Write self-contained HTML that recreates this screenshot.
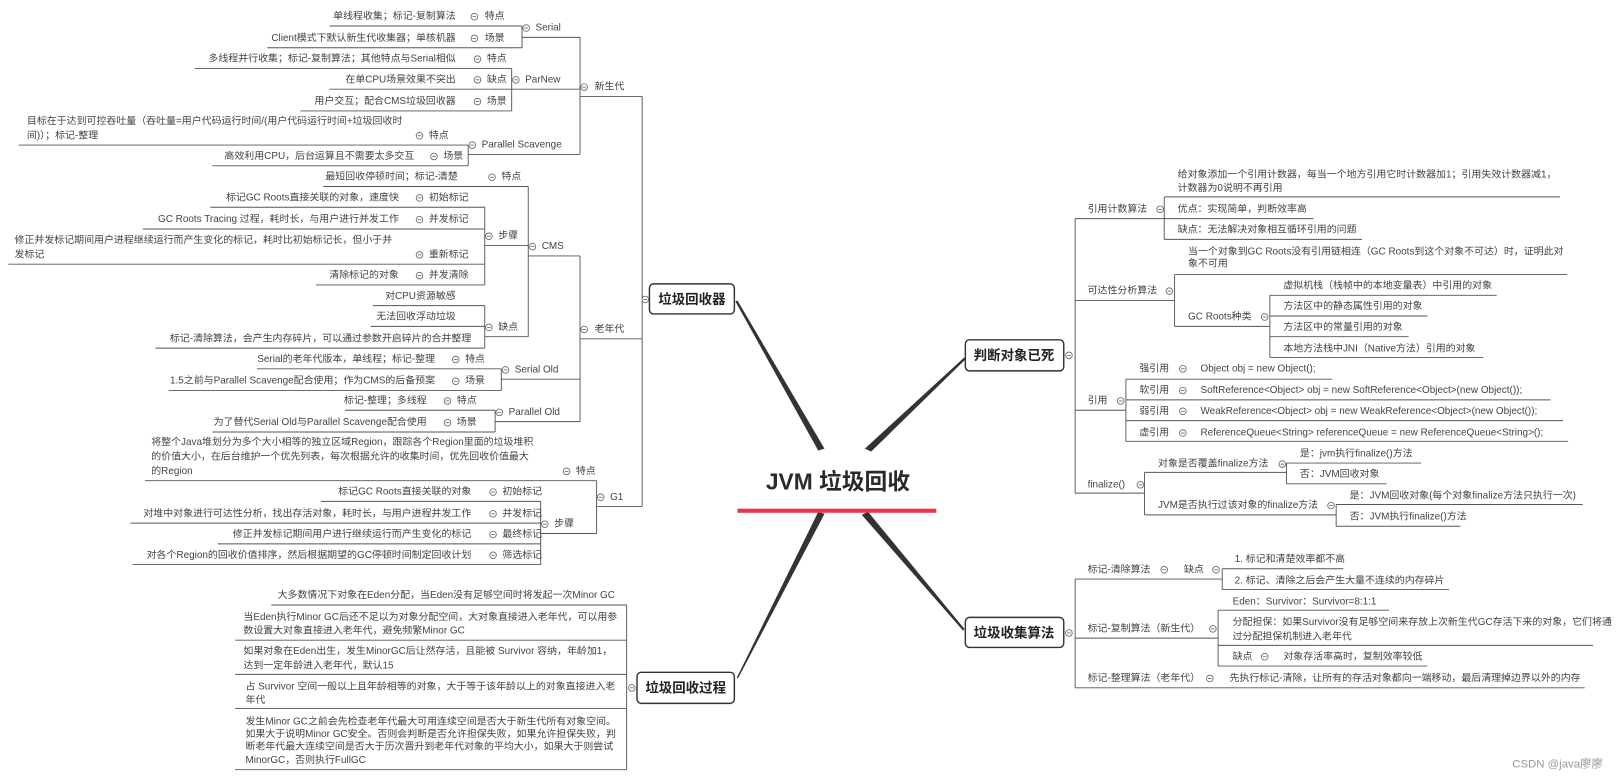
<!DOCTYPE html>
<html><head><meta charset="utf-8">
<style>
html,body{margin:0;padding:0;background:#fff;}
svg{display:block;}
text{font-family:"Liberation Sans","Noto Sans CJK SC",sans-serif;font-size:9.6px;fill:#444;dominant-baseline:central;}
.e{text-anchor:end;}
.b{font-weight:bold;font-size:13px;fill:#222;}
.l{stroke:#555;stroke-width:0.9;fill:none;}
</style></head>
<body>
<svg width="1621" height="777" viewBox="0 0 1565 750" xmlns="http://www.w3.org/2000/svg">
<defs><g id="m"><circle r="3.2" fill="#fff" stroke="#666" stroke-width="0.8"/><line x1="-1.8" x2="1.8" y1="0" y2="0" stroke="#666" stroke-width="0.8"/></g></defs>
<rect width="1565" height="750" fill="#fff"/>

<!-- center -->
<polygon points="710,291 712,290 796,433 790,435" fill="#333"/>
<polygon points="931,345 932,347 841,436 835,433" fill="#333"/>
<polygon points="931,607 930,609 832,497 838,494" fill="#333"/>
<polygon points="711,655 713,654 796,496 790,494" fill="#333"/>
<text x="809" y="465" style="font-size:22px;font-weight:bold;text-anchor:middle;fill:#2a2a2a">JVM 垃圾回收</text>
<rect x="712" y="491" width="192" height="4" fill="#e8364f"/>

<!-- main boxes -->
<rect x="627" y="274" width="82" height="29" rx="4" fill="#fff" stroke="#333" stroke-width="1.4"/>
<text class="b" x="668" y="289" style="text-anchor:middle">垃圾回收器</text>
<rect x="932" y="328" width="95" height="30" rx="4" fill="#fff" stroke="#333" stroke-width="1.4"/>
<text class="b" x="979" y="343" style="text-anchor:middle">判断对象已死</text>
<rect x="932" y="596" width="95" height="29" rx="4" fill="#fff" stroke="#333" stroke-width="1.4"/>
<text class="b" x="979" y="611" style="text-anchor:middle">垃圾收集算法</text>
<rect x="615" y="649" width="94" height="30" rx="4" fill="#fff" stroke="#333" stroke-width="1.4"/>
<text class="b" x="662" y="664" style="text-anchor:middle">垃圾回收过程</text>

<!-- LEFT: 垃圾回收器 -->
<path class="l" d="M620 93V489 M560 36V149 M504 25V46 M494 66V107 M452 140V160 M560 247V407 M510 180V325 M468 200V275 M468 295V336 M484 356V377 M478 396V417 M576 464V515 M522 484V545"/>
<path class="l" d="M318 25H504 M258 46H504 M504 36H560 M188 66H494 M318 86H494 M290 107H494 M494 86H560 M18 140H452 M205 160H452 M452 149H560 M560 93H620
M312 180H510 M203 200H468 M138 221H468 M8 255H468 M305 275H468 M468 237H510 M360 295H468 M358 315H468 M150 336H468 M468 325H510 M510 247H560
M248 356H484 M163 377H484 M484 366H560 M333 396H478 M205 417H478 M478 407H560 M560 327H620
M140 464H576 M310 484H522 M126 505H522 M210 525H522 M128 545H522 M522 515H576 M576 489H620"/>
<use href="#m" x="623" y="289"/>

<text class="e" x="440" y="16">单线程收集；标记-复制算法</text><use href="#m" x="458" y="16"/><text x="468" y="16">特点</text>
<text class="e" x="440" y="37">Client模式下默认新生代收集器；单核机器</text><use href="#m" x="458" y="37"/><text x="468" y="37">场景</text>
<use href="#m" x="508" y="27"/><text x="517" y="27">Serial</text>
<text class="e" x="440" y="57">多线程并行收集；标记-复制算法；其他特点与Serial相似</text><use href="#m" x="461" y="57"/><text x="470" y="57">特点</text>
<text class="e" x="440" y="77">在单CPU场景效果不突出</text><use href="#m" x="461" y="77"/><text x="470" y="77">缺点</text>
<text class="e" x="440" y="98">用户交互；配合CMS垃圾回收器</text><use href="#m" x="461" y="98"/><text x="470" y="98">场景</text>
<use href="#m" x="498" y="77"/><text x="507" y="77">ParNew</text>
<text x="26" y="117">目标在于达到可控吞吐量（吞吐量=用户代码运行时间/(用户代码运行时间+垃圾回收时</text>
<text x="26" y="131">间)）；标记-整理</text><use href="#m" x="405" y="131"/><text x="414" y="131">特点</text>
<text class="e" x="400" y="151">高效利用CPU，后台运算且不需要太多交互</text><use href="#m" x="419" y="151"/><text x="428" y="151">场景</text>
<use href="#m" x="456" y="140"/><text x="465" y="140">Parallel Scavenge</text>
<use href="#m" x="564" y="84"/><text x="574" y="84">新生代</text>

<text class="e" x="442" y="171">最短回收停顿时间；标记-清楚</text><use href="#m" x="475" y="171"/><text x="484" y="171">特点</text>
<text class="e" x="385" y="191">标记GC Roots直接关联的对象，速度快</text><use href="#m" x="405" y="191"/><text x="414" y="191">初始标记</text>
<text class="e" x="385" y="212">GC Roots Tracing 过程，耗时长，与用户进行并发工作</text><use href="#m" x="405" y="212"/><text x="414" y="212">并发标记</text>
<text x="14" y="232">修正并发标记期间用户进程继续运行而产生变化的标记，耗时比初始标记长，但小于并</text>
<text x="14" y="246">发标记</text><use href="#m" x="405" y="246"/><text x="414" y="246">重新标记</text>
<text class="e" x="385" y="266">清除标记的对象</text><use href="#m" x="405" y="266"/><text x="414" y="266">并发清除</text>
<use href="#m" x="472" y="228"/><text x="481" y="228">步骤</text>
<text class="e" x="440" y="286">对CPU资源敏感</text>
<text class="e" x="440" y="306">无法回收浮动垃圾</text>
<text class="e" x="455" y="327">标记-清除算法，会产生内存碎片，可以通过参数开启碎片的合并整理</text>
<use href="#m" x="472" y="316"/><text x="481" y="316">缺点</text>
<use href="#m" x="514" y="238"/><text x="523" y="238">CMS</text>
<text class="e" x="420" y="347">Serial的老年代版本，单线程；标记-整理</text><use href="#m" x="440" y="347"/><text x="449" y="347">特点</text>
<text class="e" x="420" y="368">1.5之前与Parallel Scavenge配合使用；作为CMS的后备预案</text><use href="#m" x="440" y="368"/><text x="449" y="368">场景</text>
<use href="#m" x="488" y="357"/><text x="497" y="357">Serial Old</text>
<text class="e" x="412" y="387">标记-整理；多线程</text><use href="#m" x="432" y="387"/><text x="441" y="387">特点</text>
<text class="e" x="412" y="408">为了替代Serial Old与Parallel Scavenge配合使用</text><use href="#m" x="432" y="408"/><text x="441" y="408">场景</text>
<use href="#m" x="482" y="398"/><text x="491" y="398">Parallel Old</text>
<use href="#m" x="564" y="318"/><text x="574" y="318">老年代</text>

<text x="146" y="427">将整个Java堆划分为多个大小相等的独立区域Region，跟踪各个Region里面的垃圾堆积</text>
<text x="146" y="441">的价值大小，在后台维护一个优先列表，每次根据允许的收集时间，优先回收价值最大</text>
<text x="146" y="455">的Region</text><use href="#m" x="547" y="455"/><text x="556" y="455">特点</text>
<text class="e" x="455" y="475">标记GC Roots直接关联的对象</text><use href="#m" x="476" y="475"/><text x="485" y="475">初始标记</text>
<text class="e" x="455" y="496">对堆中对象进行可达性分析，找出存活对象，耗时长，与用户进程并发工作</text><use href="#m" x="476" y="496"/><text x="485" y="496">并发标记</text>
<text class="e" x="455" y="516">修正并发标记期间用户进行继续运行而产生变化的标记</text><use href="#m" x="476" y="516"/><text x="485" y="516">最终标记</text>
<text class="e" x="455" y="536">对各个Region的回收价值排序，然后根据期望的GC停顿时间制定回收计划</text><use href="#m" x="476" y="536"/><text x="485" y="536">筛选标记</text>
<use href="#m" x="526" y="506"/><text x="535" y="506">步骤</text>
<use href="#m" x="580" y="480"/><text x="589" y="480">G1</text>

<!-- LEFT: 垃圾回收过程 -->
<path class="l" d="M605 584V743 M262 584H605 M227 618H605 M227 651H605 M227 684H605 M227 743H605"/>
<use href="#m" x="610" y="664"/>
<text x="268" y="575">大多数情况下对象在Eden分配，当Eden没有足够空间时将发起一次Minor GC</text>
<text x="235" y="596">当Eden执行Minor GC后还不足以为对象分配空间，大对象直接进入老年代，可以用参</text>
<text x="235" y="609">数设置大对象直接进入老年代，避免频繁Minor GC</text>
<text x="235" y="629">如果对象在Eden出生，发生MinorGC后让然存活，且能被 Survivor 容纳，年龄加1，</text>
<text x="235" y="643">达到一定年龄进入老年代，默认15</text>
<text x="237" y="663">占 Survivor 空间一般以上且年龄相等的对象，大于等于该年龄以上的对象直接进入老</text>
<text x="237" y="676">年代</text>
<text x="237" y="697">发生Minor GC之前会先检查老年代最大可用连续空间是否大于新生代所有对象空间。</text>
<text x="237" y="709">如果大于说明Minor GC安全。否则会判断是否允许担保失败，如果允许担保失败，判</text>
<text x="237" y="721">断老年代最大连续空间是否大于历次晋升到老年代对象的平均大小，如果大于则尝试</text>
<text x="237" y="734">MinorGC，否则执行FullGC</text>

<!-- RIGHT: 判断对象已死 -->
<path class="l" d="M1038 211V476 M1124 190V231 M1134 265V315 M1226 285V345 M1087 366V426 M1105 456V497 M1242 447V467 M1290 487V508"/>
<path class="l" d="M1038 211H1124 M1124 190H1506 M1124 211H1268 M1124 231H1315 M1038 290H1134 M1134 265H1513 M1134 315H1226 M1226 285H1445 M1226 305H1378 M1226 325H1360 M1226 345H1432
M1038 396H1087 M1087 366H1286 M1087 386H1497 M1087 406H1509 M1087 426H1514 M1038 476H1105 M1105 456H1242 M1105 497H1290 M1242 447H1372 M1242 467H1339 M1290 487H1528 M1290 508H1410"/>
<use href="#m" x="1032" y="343"/>
<text x="1050" y="202">引用计数算法</text><use href="#m" x="1120" y="202"/>
<text x="1137" y="169">给对象添加一个引用计数器，每当一个地方引用它时计数器加1；引用失效计数器减1，</text>
<text x="1137" y="182">计数器为0说明不再引用</text>
<text x="1137" y="202">优点：实现简单，判断效率高</text>
<text x="1137" y="222">缺点：无法解决对象相互循环引用的问题</text>
<text x="1050" y="281">可达性分析算法</text><use href="#m" x="1129" y="281"/>
<text x="1147" y="243">当一个对象到GC Roots没有引用链相连（GC Roots到这个对象不可达）时，证明此对</text>
<text x="1147" y="255">象不可用</text>
<text x="1147" y="306">GC Roots种类</text><use href="#m" x="1221" y="306"/>
<text x="1239" y="276">虚拟机栈（栈帧中的本地变量表）中引用的对象</text>
<text x="1239" y="296">方法区中的静态属性引用的对象</text>
<text x="1239" y="316">方法区中的常量引用的对象</text>
<text x="1239" y="337">本地方法栈中JNI（Native方法）引用的对象</text>
<text x="1050" y="387">引用</text><use href="#m" x="1082" y="387"/>
<text x="1100" y="356">强引用</text><use href="#m" x="1142" y="356"/><text x="1159" y="356">Object obj = new Object();</text>
<text x="1100" y="377">软引用</text><use href="#m" x="1142" y="377"/><text x="1159" y="377">SoftReference&lt;Object&gt; obj = new SoftReference&lt;Object&gt;(new Object());</text>
<text x="1100" y="397">弱引用</text><use href="#m" x="1142" y="397"/><text x="1159" y="397">WeakReference&lt;Object&gt; obj = new WeakReference&lt;Object&gt;(new Object());</text>
<text x="1100" y="418">虚引用</text><use href="#m" x="1142" y="418"/><text x="1159" y="418">ReferenceQueue&lt;String&gt; referenceQueue = new ReferenceQueue&lt;String&gt;();</text>
<text x="1050" y="468">finalize()</text><use href="#m" x="1101" y="468"/>
<text x="1118" y="448">对象是否覆盖finalize方法</text><use href="#m" x="1238" y="448"/>
<text x="1255" y="438">是：jvm执行finalize()方法</text>
<text x="1255" y="458">否：JVM回收对象</text>
<text x="1118" y="488">JVM是否执行过该对象的finalize方法</text><use href="#m" x="1285" y="488"/>
<text x="1303" y="479">是：JVM回收对象(每个对象finalize方法只执行一次)</text>
<text x="1303" y="499">否：JVM执行finalize()方法</text>

<!-- RIGHT: 垃圾收集算法 -->
<path class="l" d="M1038 559V664 M1038 559H1180 M1180 549V569 M1180 549H1297 M1180 569H1399 M1038 616H1176 M1176 589V643 M1176 589H1341 M1176 623H1538 M1176 643H1378 M1038 664H1530"/>
<use href="#m" x="1032" y="611"/>
<text x="1050" y="550">标记-清除算法</text><use href="#m" x="1124" y="550"/><text x="1143" y="550">缺点</text><use href="#m" x="1174" y="550"/>
<text x="1192" y="540">1. 标记和清楚效率都不高</text>
<text x="1192" y="561">2. 标记、清除之后会产生大量不连续的内存碎片</text>
<text x="1050" y="607">标记-复制算法（新生代）</text><use href="#m" x="1171" y="607"/>
<text x="1190" y="581">Eden：Survivor：Survivor=8:1:1</text>
<text x="1190" y="601">分配担保：如果Survivor没有足够空间来存放上次新生代GC存活下来的对象，它们将通</text>
<text x="1190" y="615">过分配担保机制进入老年代</text>
<text x="1190" y="634">缺点</text><use href="#m" x="1221" y="634"/><text x="1239" y="634">对象存活率高时，复制效率较低</text>
<text x="1050" y="655">标记-整理算法（老年代）</text><use href="#m" x="1168" y="655"/>
<text x="1187" y="655">先执行标记-清除，让所有的存活对象都向一端移动，最后清理掉边界以外的内存</text>

<text x="1460" y="738" style="fill:#999;font-size:11px">CSDN @java廖廖</text>
</svg>
</body></html>
